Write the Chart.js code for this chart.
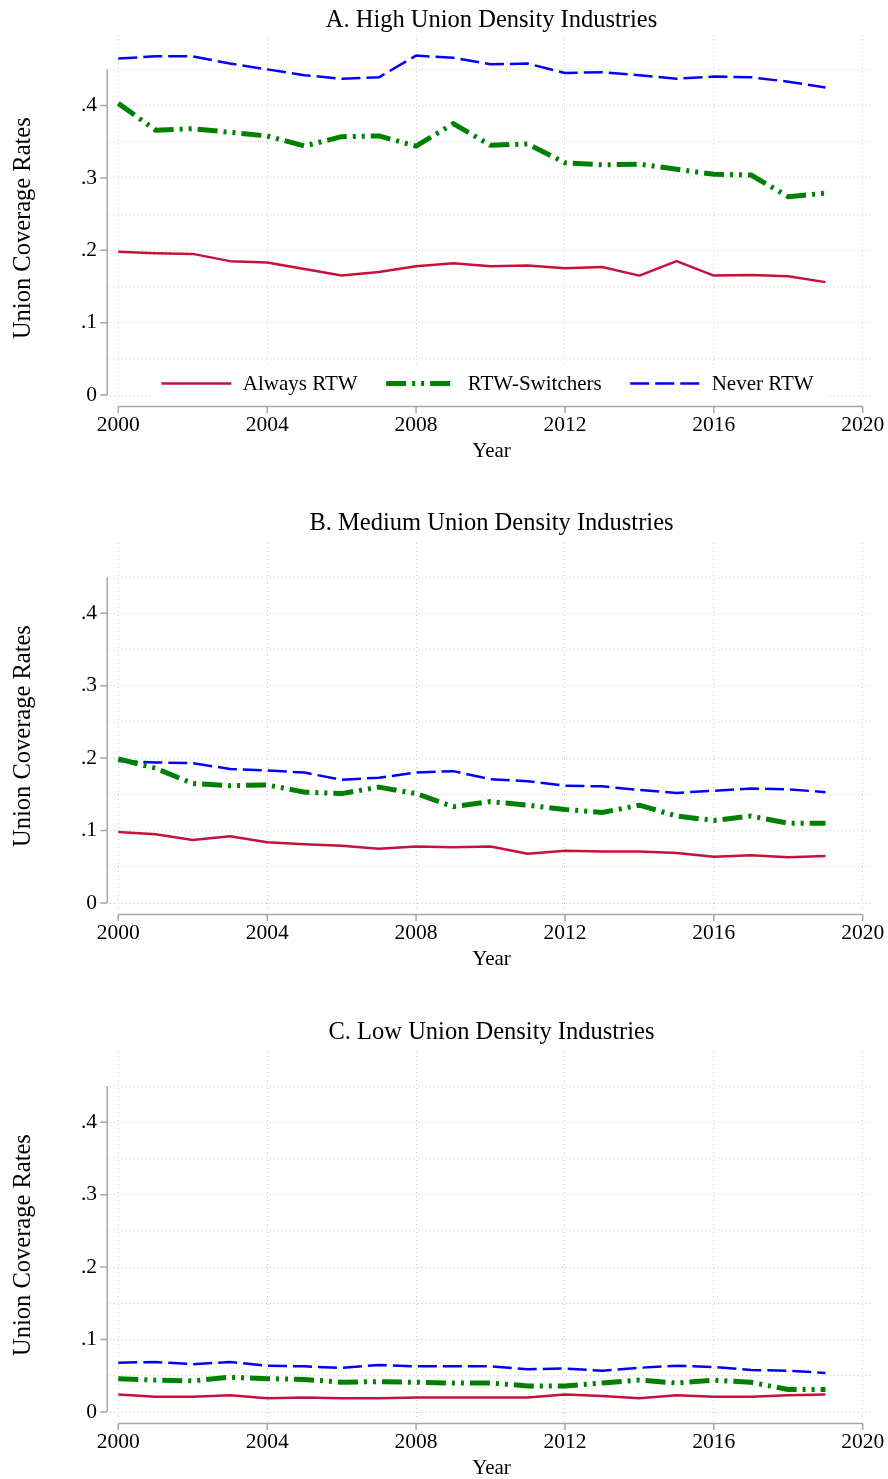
<!DOCTYPE html>
<html>
<head>
<meta charset="utf-8">
<title>Union Coverage Rates by Industry Union Density</title>
<script src="https://cdn.jsdelivr.net/npm/chart.js@4.4.1/dist/chart.umd.min.js"></script>
<style>
  html, body { margin: 0; padding: 0; background: #ffffff; overflow: hidden; width: 888px; height: 1479px; }
  .panel { position: absolute; left: 0; width: 888px; height: 508px; }
  canvas { display: block; }
</style>
</head>
<body>
<div class="panel" style="top:0px"><canvas id="panelA" width="888" height="508"></canvas></div>
<div class="panel" style="top:508px"><canvas id="panelB" width="888" height="508"></canvas></div>
<div class="panel" style="top:1017px"><canvas id="panelC" width="888" height="508"></canvas></div>
<script>
// ---- data ----
const years = [2000, 2001, 2002, 2003, 2004, 2005, 2006, 2007, 2008, 2009,
               2010, 2011, 2012, 2013, 2014, 2015, 2016, 2017, 2018, 2019];
const xTickYears = [2000, 2004, 2008, 2012, 2016, 2020];
const yGridValues = [0, 0.05, 0.1, 0.15, 0.2, 0.25, 0.3, 0.35, 0.4, 0.45];
const yLabelValues = [0, 0.1, 0.2, 0.3, 0.4];
const seriesNames = ['Always RTW', 'RTW-Switchers', 'Never RTW'];
const panelTitles = ['A. High Union Density Industries',
                     'B. Medium Union Density Industries',
                     'C. Low Union Density Industries'];
const yAxisTitle = 'Union Coverage Rates';
const xAxisTitle = 'Year';

// High union density industries
const highAlways    = [0.198, 0.196, 0.195, 0.185, 0.183, 0.174, 0.165, 0.170, 0.178, 0.182,
                       0.178, 0.179, 0.175, 0.177, 0.165, 0.185, 0.165, 0.166, 0.164, 0.156];
const highSwitchers = [0.403, 0.366, 0.368, 0.363, 0.358, 0.344, 0.357, 0.358, 0.344, 0.375,
                       0.345, 0.347, 0.321, 0.318, 0.319, 0.312, 0.305, 0.304, 0.274, 0.279];
const highNever     = [0.465, 0.468, 0.468, 0.458, 0.450, 0.442, 0.437, 0.439, 0.469, 0.466,
                       0.457, 0.458, 0.445, 0.446, 0.442, 0.437, 0.440, 0.439, 0.433, 0.425];

// Medium union density industries
const medAlways     = [0.098, 0.095, 0.087, 0.092, 0.084, 0.081, 0.079, 0.075, 0.078, 0.077,
                       0.078, 0.068, 0.072, 0.071, 0.071, 0.069, 0.064, 0.066, 0.063, 0.065];
const medSwitchers  = [0.199, 0.186, 0.165, 0.162, 0.163, 0.153, 0.151, 0.160, 0.151, 0.133,
                       0.140, 0.135, 0.129, 0.125, 0.135, 0.120, 0.114, 0.120, 0.110, 0.110];
const medNever      = [0.196, 0.194, 0.193, 0.185, 0.183, 0.180, 0.170, 0.173, 0.180, 0.182,
                       0.171, 0.168, 0.162, 0.161, 0.156, 0.152, 0.155, 0.158, 0.157, 0.153];

// Low union density industries
const lowAlways     = [0.024, 0.021, 0.021, 0.023, 0.019, 0.020, 0.019, 0.019, 0.020, 0.020,
                       0.020, 0.020, 0.024, 0.022, 0.019, 0.023, 0.021, 0.021, 0.023, 0.024];
const lowSwitchers  = [0.046, 0.044, 0.043, 0.048, 0.046, 0.045, 0.041, 0.042, 0.041, 0.040,
                       0.040, 0.036, 0.036, 0.040, 0.044, 0.040, 0.044, 0.041, 0.031, 0.031];
const lowNever      = [0.068, 0.069, 0.066, 0.069, 0.064, 0.063, 0.061, 0.065, 0.063, 0.063,
                       0.063, 0.059, 0.060, 0.057, 0.061, 0.064, 0.062, 0.058, 0.057, 0.054];

// ---- styling ----
const SERIF = "'Liberation Serif', 'Times New Roman', Times, serif";
Chart.defaults.font.family = SERIF;
Chart.defaults.color = '#000000';

const seriesStyles = [
  { color: '#c8103c', width: 2.5, dash: [] },
  { color: '#008000', width: 5,   dash: [20, 6, 3, 6, 3, 6] },
  { color: '#0000ff', width: 2.5, dash: [19, 6] }
];
const AXIS_COLOR = '#a6a6a6';
const GRID_COLOR = '#c6c6c6';

// Axis lines, tick marks, the vertical y title and the in-plot legend
const framePlugin = {
  id: 'frame',
  afterDraw(chart, args, opts) {
    const { ctx, chartArea, scales: { x, y } } = chart;
    const yTop = y.getPixelForValue(yGridValues[yGridValues.length - 1]);
    const yZero = y.getPixelForValue(yGridValues[0]);
    const xFirst = x.getPixelForValue(xTickYears[0]);
    const xLast = x.getPixelForValue(xTickYears[xTickYears.length - 1]);
    const axX = chartArea.left - 2.7;
    const axY = chartArea.bottom + 6.5;

    ctx.save();
    ctx.strokeStyle = AXIS_COLOR;
    ctx.lineWidth = 1.5;
    ctx.lineCap = 'butt';
    ctx.setLineDash([]);
    ctx.beginPath();
    ctx.moveTo(axX, yTop);
    ctx.lineTo(axX, yZero);
    yLabelValues.forEach(v => {
      const py = y.getPixelForValue(v);
      ctx.moveTo(axX - 7, py);
      ctx.lineTo(axX, py);
    });
    ctx.moveTo(xFirst, axY);
    ctx.lineTo(xLast, axY);
    xTickYears.forEach(v => {
      const px = x.getPixelForValue(v);
      ctx.moveTo(px, axY);
      ctx.lineTo(px, axY + 6.5);
    });
    ctx.stroke();

    // y axis title
    ctx.fillStyle = '#000000';
    ctx.font = '24.5px ' + SERIF;
    ctx.textAlign = 'center';
    ctx.textBaseline = 'middle';
    ctx.translate(23.7, (yTop + yZero) / 2 - 4);
    ctx.rotate(-Math.PI / 2);
    ctx.fillText(yAxisTitle, 0, 0);
    ctx.restore();

    if (!opts.legend) return;

    // legend row inside the plot region
    ctx.save();
    ctx.font = '21px ' + SERIF;
    const sampleW = 70, sampleGap = 11.5, itemGap = 28.5;
    const items = chart.data.datasets.map(ds => ({
      ds, tw: ctx.measureText(ds.label).width
    }));
    const total = items.reduce((s, it) => s + sampleW + sampleGap + it.tw, 0) + itemGap * (items.length - 1);
    let cx = (xFirst + xLast) / 2 - 3 - total / 2;
    const rowY = chartArea.bottom - 16.5;
    ctx.fillStyle = '#ffffff';
    ctx.fillRect(cx - 8, rowY - 17, total + 21, 34.5);
    items.forEach(it => {
      ctx.strokeStyle = it.ds.borderColor;
      ctx.lineWidth = it.ds.borderWidth;
      ctx.setLineDash(it.ds.borderDash || []);
      ctx.beginPath();
      ctx.moveTo(cx, rowY);
      ctx.lineTo(cx + sampleW, rowY);
      ctx.stroke();
      ctx.setLineDash([]);
      ctx.fillStyle = '#000000';
      ctx.textAlign = 'left';
      ctx.textBaseline = 'middle';
      ctx.fillText(it.ds.label, cx + sampleW + sampleGap, rowY + 1);
      cx += sampleW + sampleGap + it.tw + itemGap;
    });
    ctx.restore();
  }
};

function buildDatasets(values) {
  return values.map((arr, i) => ({
    label: seriesNames[i],
    data: arr.map((v, k) => ({ x: years[k], y: v })),
    borderColor: seriesStyles[i].color,
    backgroundColor: seriesStyles[i].color,
    borderWidth: seriesStyles[i].width,
    borderDash: seriesStyles[i].dash,
    borderCapStyle: 'butt',
    borderJoinStyle: 'round',
    pointRadius: 0,
    pointHoverRadius: 0,
    tension: 0,
    fill: false,
    clip: false
  }));
}

function yLabel(v) {
  const n = Math.round(v * 100);
  if (n % 10 !== 0) return '';
  return n === 0 ? '0' : '.' + (n / 10);
}

function makePanel(canvasId, title, values, withLegend, titleTop) {
  const PLOT_LEFT = 110, PLOT_RIGHT = 873, PLOT_TOP = 35, PLOT_BOTTOM = 400;
  const W = 888, H = 508;
  // data-to-pixel calibration: 2000 -> 118.3, 2020 -> 862.7; 0 -> 395, .45 -> 69
  const pxPerYear = (862.7 - 118.3) / 20;
  const pxPerUnit = (395 - 69) / 0.45;
  const xMin = 2000 - (118.3 - PLOT_LEFT) / pxPerYear;
  const xMax = 2020 + (PLOT_RIGHT - 862.7) / pxPerYear;
  const yMin = -(PLOT_BOTTOM - 395) / pxPerUnit;
  const yMax = yMin + (PLOT_BOTTOM - PLOT_TOP) / pxPerUnit;
  const titleSize = 24.5;
  const titleLine = titleSize * 1.2;

  return new Chart(document.getElementById(canvasId), {
    type: 'line',
    data: { datasets: buildDatasets(values) },
    plugins: [framePlugin],
    options: {
      responsive: false,
      animation: false,
      devicePixelRatio: 1,
      events: [],
      layout: { padding: { left: 0, right: W - PLOT_RIGHT, top: 0, bottom: 0 } },
      plugins: {
        legend: { display: false },
        tooltip: { enabled: false },
        title: {
          display: true,
          text: title,
          fullSize: false,
          color: '#000000',
          font: { family: SERIF, size: titleSize, weight: 'normal', lineHeight: 1.2 },
          padding: { top: titleTop, bottom: Math.max(0, PLOT_TOP - titleLine - titleTop) }
        },
        frame: { legend: withLegend }
      },
      scales: {
        x: {
          type: 'linear',
          min: xMin,
          max: xMax,
          afterBuildTicks: s => { s.ticks = xTickYears.map(v => ({ value: v })); },
          afterFit: s => { s.height = H - PLOT_BOTTOM; s.paddingLeft = 0; s.paddingRight = 0; },
          ticks: {
            autoSkip: false,
            maxRotation: 0,
            minRotation: 0,
            padding: 12,
            color: '#000000',
            font: { family: SERIF, size: 21.5, lineHeight: 1.2 },
            callback: v => String(v)
          },
          grid: { display: true, drawTicks: false, color: GRID_COLOR, lineWidth: 1 },
          border: { display: false, dash: [1, 3] },
          title: {
            display: true,
            text: xAxisTitle,
            color: '#000000',
            font: { family: SERIF, size: 21, lineHeight: 1.2 },
            padding: { top: 0, bottom: 44 }
          }
        },
        y: {
          type: 'linear',
          min: yMin,
          max: yMax,
          afterBuildTicks: s => { s.ticks = yGridValues.map(v => ({ value: v })); },
          afterFit: s => { s.width = PLOT_LEFT; s.paddingTop = 0; s.paddingBottom = 0; },
          ticks: {
            autoSkip: false,
            padding: 13,
            color: '#000000',
            font: { family: SERIF, size: 21.5, lineHeight: 1.2 },
            callback: v => yLabel(v)
          },
          grid: { display: true, drawTicks: false, color: GRID_COLOR, lineWidth: 1 },
          border: { display: false, dash: [1, 3] }
        }
      }
    }
  });
}

makePanel('panelA', panelTitles[0], [highAlways, highSwitchers, highNever], true, 6);
makePanel('panelB', panelTitles[1], [medAlways, medSwitchers, medNever], false, 1);
makePanel('panelC', panelTitles[2], [lowAlways, lowSwitchers, lowNever], false, 1);
</script>
</body>
</html>
